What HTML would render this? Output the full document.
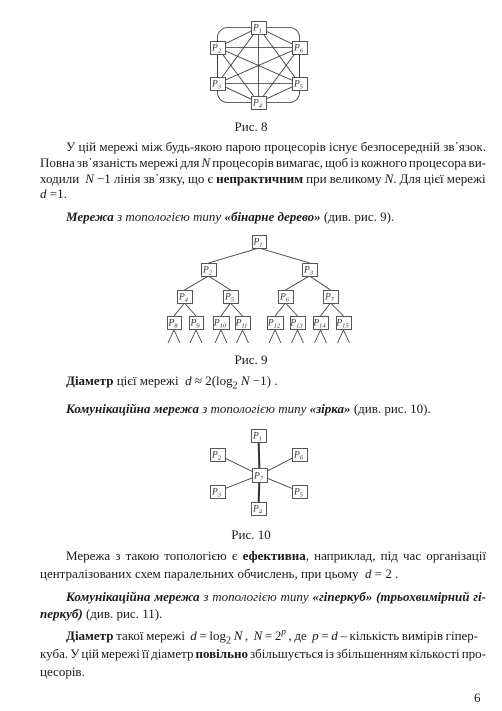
<!DOCTYPE html>
<html><head><meta charset="utf-8">
<style>
html,body{margin:0;padding:0;background:#fff;}
body{width:502px;height:711px;position:relative;overflow:hidden;font-family:"Liberation Serif",serif;color:#1a1a1a;}
.l{position:absolute;left:40px;width:446px;font-size:13px;line-height:16px;white-space:nowrap;}
.c{text-align:center;left:0;width:502px;}
.in{padding-left:26px;box-sizing:border-box;}
.j span.t{display:inline-block;}
sub,sup{line-height:0;}
i{font-style:italic}
svg{position:absolute;left:0;top:0}
</style></head>
<body>
<svg width="502" height="711" id="fig"></svg>

<div class="l c" style="top:119px">Рис. 8</div>
<div class="l j in" style="top:139px"><span class="t">У цій мережі між будь-якою парою процесорів існує безпосередній зв᾽язок.</span></div>
<div class="l j" style="top:155px"><span class="t">Повна зв᾽язаність мережі для <i>N</i> процесорів вимагає, щоб із кожного процесора ви-</span></div>
<div class="l j" style="top:171px"><span class="t">ходили&nbsp; <i>N</i>&nbsp;−1 лінія зв᾽язку, що є <b>непрактичним</b> при великому <i>N</i>. Для цієї мережі</span></div>
<div class="l" style="top:186px"><i>d</i> =1.</div>
<div class="l in" style="top:209px"><b><i>Мережа</i></b> <i>з топологією типу</i> <b><i>«бінарне дерево»</i></b> (див. рис. 9).</div>

<div class="l c" style="top:352px">Рис. 9</div>
<div class="l in" style="top:373px"><b>Діаметр</b> цієї мережі&nbsp; <i>d</i> ≈ 2(log<sub style="font-size:10px">2</sub> <i>N</i> −1) .</div>
<div class="l in" style="top:401px"><b><i>Комунікаційна мережа</i></b> <i>з топологією типу</i> <b><i>«зірка»</i></b> (див. рис. 10).</div>

<div class="l c" style="top:527px">Рис. 10</div>
<div class="l j in" style="top:548px"><span class="t">Мережа з такою топологією є <b>ефективна</b>, наприклад, під час організації</span></div>
<div class="l" style="top:566px">централізованих схем паралельних обчислень, при цьому&nbsp; <i>d</i> = 2 .</div>
<div class="l j in" style="top:589px"><span class="t"><b><i>Комунікаційна мережа</i></b> <i>з топологією типу</i> <b><i>«гіперкуб» (трьохвимірний гі-</i></b></span></div>
<div class="l" style="top:606px"><b><i>перкуб)</i></b> (див. рис. 11).</div>
<div class="l j in" style="top:628px"><span class="t"><b>Діаметр</b> такої мережі&nbsp; <i>d</i>&nbsp;=&nbsp;log<sub style="font-size:10px">2</sub>&nbsp;<i>N</i>&nbsp;,&nbsp; <i>N</i>&nbsp;=&nbsp;2<sup style="font-size:9px"><i>p</i></sup>&nbsp;, де&nbsp; <i>p</i>&nbsp;=&nbsp;<i>d</i>&nbsp;– кількість вимірів гіпер-</span></div>
<div class="l j" style="top:646px"><span class="t">куба. У цій мережі її діаметр <b>повільно</b> збільшується із збільшенням кількості про-</span></div>
<div class="l" style="top:664px">цесорів.</div>
<div class="l" style="top:690px;left:474px;width:20px">6</div>

<script>
document.querySelectorAll('.j').forEach(d=>{
  const s=d.querySelector('.t');
  const avail=d.clientWidth-(d.classList.contains('in')?26:0);
  const txt=s.textContent;const spaces=(txt.match(/ /g)||[]).length;
  const diff=avail-s.getBoundingClientRect().width;
  if(spaces>0) s.style.wordSpacing=(diff/spaces)+'px';
});

const NS="http://www.w3.org/2000/svg";
const svg=document.getElementById('fig');
const full=[["1",251,21],["2",210,41],["6",292,41],["3",210,77],["5",292,77],["4",251,96]];
const treeL1=[["1",252,235,14]];
const treeL2=[["2",201,263,15],["3",302,263,15]];
const treeL3=[["4",177,290,15],["5",223,290,15],["6",278,290,15],["7",323,290,15]];
const treeL4=[["8",167,316,14],["9",189,316,14],["10",213,316,16],["11",235,316,15],["12",267,316,16],["13",290,316,15],["14",313,316,15],["15",336,316,15]];
const star=[["1",251,429],["2",210,448],["6",292,448],["3",210,485],["5",292,485],["4",251,502]];
const starC=["7",252,468];

function ln(x1,y1,x2,y2,w,name){const e=document.createElementNS(NS,'line');
e.setAttribute('x1',x1);e.setAttribute('y1',y1);e.setAttribute('x2',x2);e.setAttribute('y2',y2);
e.setAttribute('stroke','#333');e.setAttribute('stroke-width',w||0.8);


svg.appendChild(e);}
function box(lbl,x,y,w,h,name){const g=document.createElementNS(NS,'g');


const r=document.createElementNS(NS,'rect');r.setAttribute('x',x+0.5);r.setAttribute('y',y+0.5);
r.setAttribute('width',w);r.setAttribute('height',h);r.setAttribute('fill','#fff');r.setAttribute('stroke','#444');r.setAttribute('stroke-width',0.9);
g.appendChild(r);
const t=document.createElementNS(NS,'text');t.setAttribute('x',x+w/2-1);t.setAttribute('y',y+h-3.5);
t.setAttribute('text-anchor','middle');t.setAttribute('font-family','Liberation Serif, serif');t.setAttribute('font-size','9.5');t.setAttribute('font-style','italic');t.setAttribute('fill','#333');
t.innerHTML='P<tspan font-size="6.5" dy="2">'+lbl+'</tspan>';g.appendChild(t);svg.appendChild(g);}

const W=15,H=13;
const rr=document.createElementNS(NS,'rect');
rr.setAttribute('x',217.5);rr.setAttribute('y',27.5);rr.setAttribute('width',82);rr.setAttribute('height',75);rr.setAttribute('rx',10);
rr.setAttribute('fill','none');rr.setAttribute('stroke','#333');rr.setAttribute('stroke-width',0.8);


svg.appendChild(rr);
const cen=n=>[n[1]+W/2,n[2]+H/2];
for(let i=0;i<full.length;i++)for(let j=i+1;j<full.length;j++){const a=cen(full[i]),b=cen(full[j]);ln(a[0],a[1],b[0],b[1],0.8,'link-p'+full[i][0]+'-p'+full[j][0]);}
full.forEach(n=>box(n[0],n[1],n[2],W,H,'fig8-node-p'+n[0]));

const levels=[treeL1,treeL2,treeL3,treeL4];
for(let k=0;k<3;k++){levels[k].forEach((p,i)=>{[levels[k+1][2*i],levels[k+1][2*i+1]].forEach(c=>{
ln(p[1]+p[3]/2,p[2]+13,c[1]+c[3]/2,c[2],0.8,'tree-edge-p'+p[0]+'-p'+c[0]);});});}
treeL4.forEach(c=>{const cx=c[1]+c[3]/2;ln(cx,330,cx-6,343,0.8,'tree-leg');ln(cx,330,cx+6,343,0.8,'tree-leg');});
levels.forEach(L=>L.forEach(n=>box(n[0],n[1],n[2],n[3],13,'tree-node-p'+n[0])));

const sc=[starC[1]+W/2,starC[2]+7];
star.forEach(n=>{const c=cen(n);const v=(n[0]==="1"||n[0]==="4");ln(sc[0],sc[1],c[0],c[1],v?2:0.8,'star-link-p'+n[0]);});
star.forEach(n=>box(n[0],n[1],n[2],W,H,'star-node-p'+n[0]));
box(starC[0],starC[1],starC[2],W,14,'star-center-node');
</script>
</body></html>
